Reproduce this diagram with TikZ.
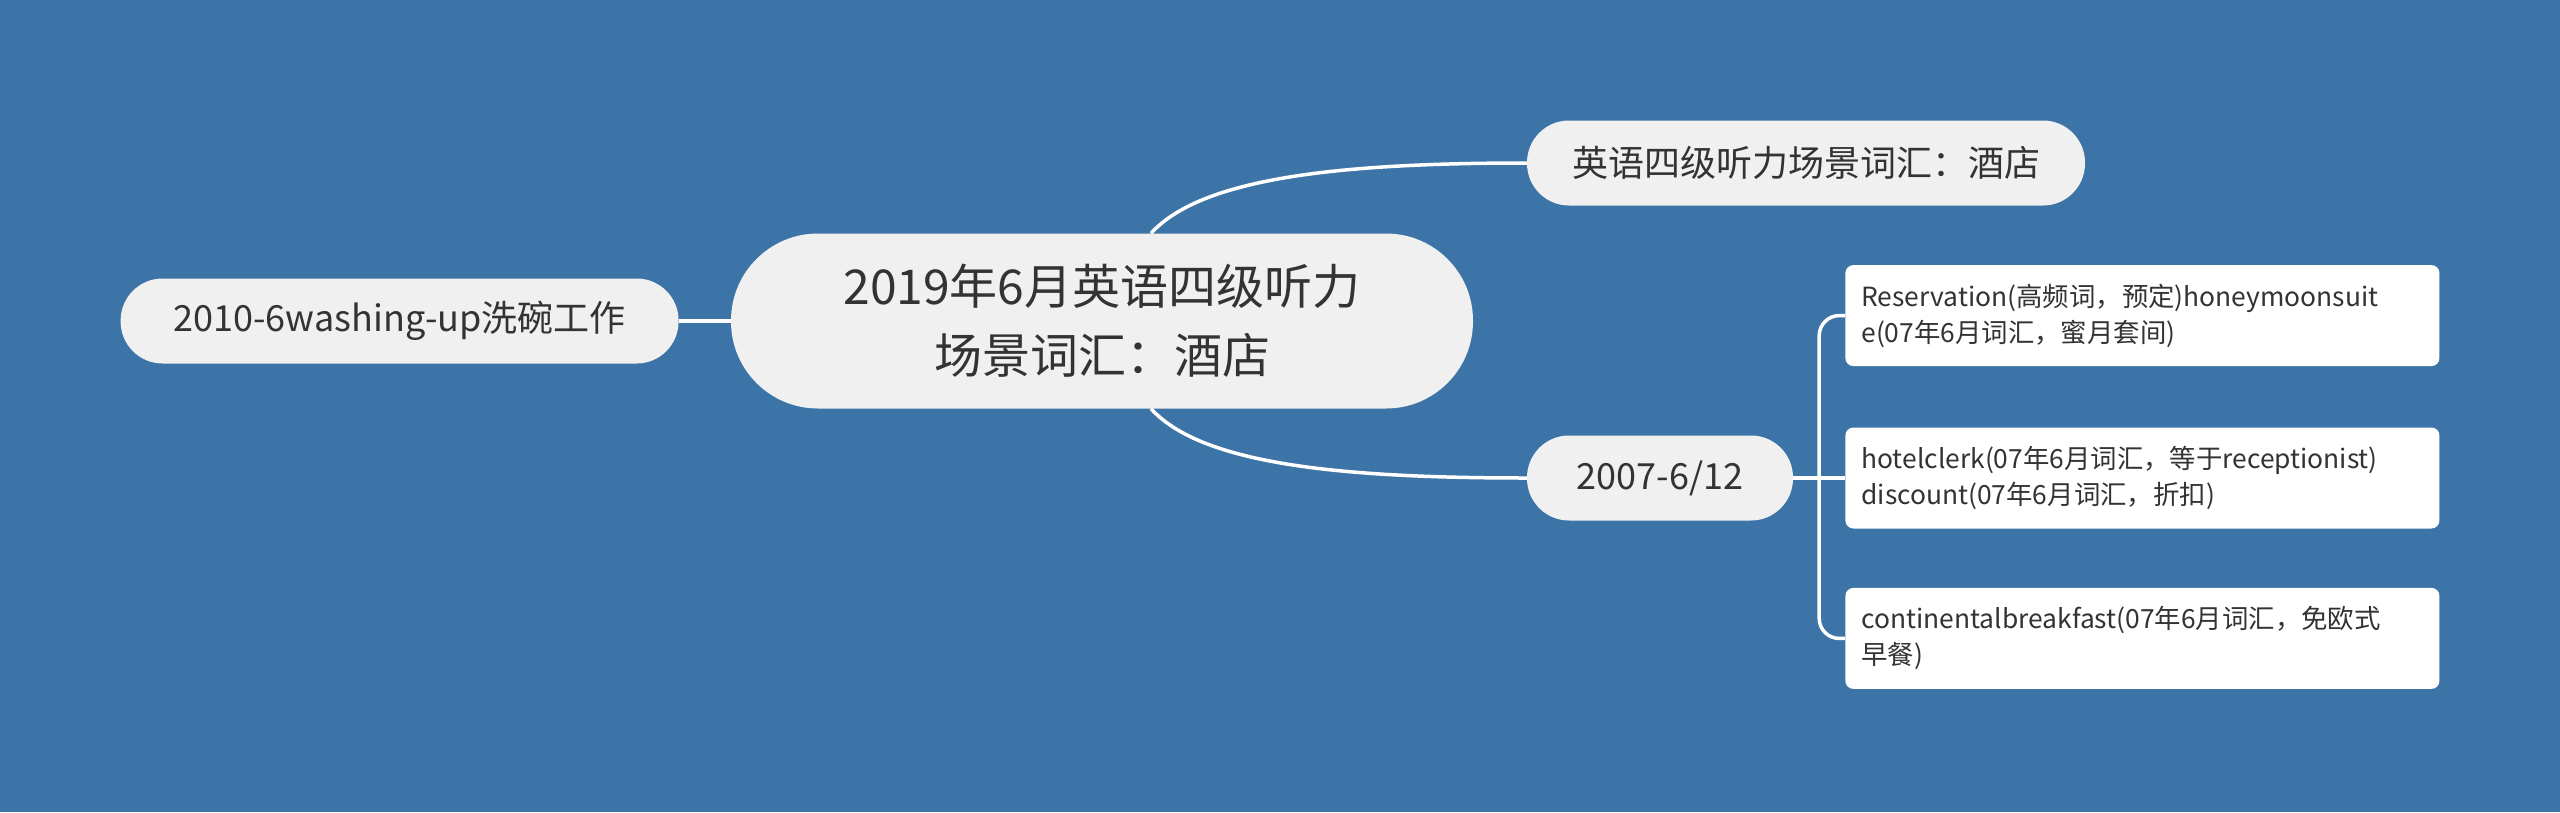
\documentclass[tikz,border=0pt]{standalone}
\usepackage{fontspec}
\setmainfont{Noto Sans CJK SC}
\usepackage{tikz}
\usetikzlibrary{positioning,calc}
\definecolor{bgblue}{HTML}{3D74A7}
\definecolor{topicgray}{HTML}{F0F0F0}
\definecolor{inkgray}{HTML}{333333}

\begin{document}
\begin{tikzpicture}[x=1pt,y=-1pt,
    root/.style={fill=topicgray, text=inkgray, align=center, rounded corners=87pt,
      minimum width=742pt, minimum height=175pt, font=\fontsize{48}{69}\selectfont},
    topic/.style={fill=topicgray, text=inkgray, rounded corners=42pt,
      minimum width=558pt, minimum height=85pt, font=\fontsize{36}{44}\selectfont},
    leaf/.style={fill=white, text=inkgray, rounded corners=8pt, align=left,
      text width=562pt, inner xsep=16pt, minimum height=101pt,
      font=\fontsize{26.4}{36}\selectfont},
    link/.style={draw=white, line width=3.5pt}]
  \useasboundingbox[fill=bgblue] (0,0) rectangle (2560,812);
  %central topic
  \node[root] (root) at (1102,321) {2019年6月英语四级听力\\场景词汇：酒店};
  %main branches
  \node[topic] at($(root)+(704,-158)$) (hotel) {英语四级听力场景词汇：酒店};
  \node[topic, minimum width=266pt] at($(root)+(558,157)$) (date) {2007-6/12};
  \node[topic, left =52pt of root] (wash) {2010-6washing-up洗碗工作};
  %leaves of the date branch
  \node[leaf, right =52pt of date] (leaf2) {hotelclerk(07年6月词汇，等于receptionist)\\discount(07年6月词汇，折扣)};
  \node[leaf, above =61pt of leaf2] (leaf1) {Reservation(高频词，预定)honeymoonsuit\\e(07年6月词汇，蜜月套间)};
  \node[leaf, below =59pt of leaf2] (leaf3) {continentalbreakfast(07年6月词汇，免欧式\\早餐)};
  %connectors from the central topic
  \coordinate (rt) at ($(root.north)+(49,0)$);
  \coordinate (rb) at ($(root.south)+(49,0)$);
  \draw[link] (rt) .. controls +(50,-55) and +(-190,0) .. (hotel.west);
  \draw[link] (rb) .. controls +(50,55) and +(-190,0) .. (date.west);
  \draw[link] (root.west) -- (wash.east);
  %bracket to the leaves
  \coordinate (fork) at ($(date.east)!0.5!(leaf2.west)$);
  \draw[link] (date.east) -- (leaf2.west);
  \draw[link, rounded corners=20pt] (leaf1.west) -| (fork) |- (leaf3.west);
\end{tikzpicture}
\end{document}
